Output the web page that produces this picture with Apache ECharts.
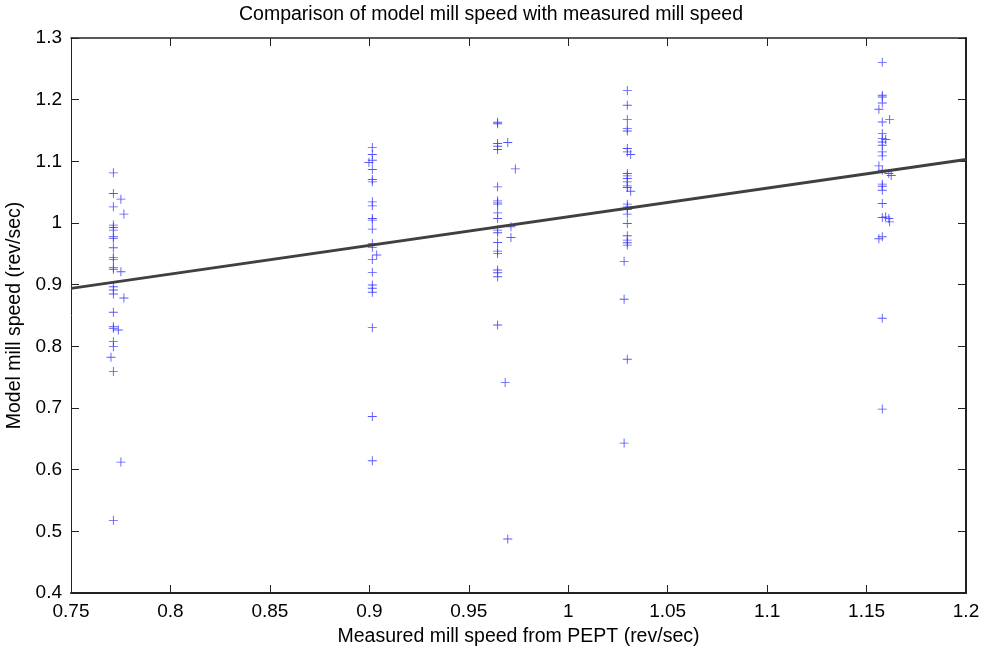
<!DOCTYPE html>
<html>
<head>
<meta charset="utf-8">
<script src="https://cdn.jsdelivr.net/npm/echarts@6/dist/echarts.min.js"></script>
<style>
  html, body { margin: 0; padding: 0; background: #fff; }
  #chart { width: 982px; height: 653px; }
</style>
</head>
<body>
<div id="chart"></div>
<script>
// Measured speed (x) and model speed (y), one pair per point
const measured = [
  0.7713, 0.7713, 0.7751, 0.7713, 0.7766, 0.7713, 0.7713, 0.7713, 0.7713, 0.7713,
  0.7713, 0.7713, 0.7713, 0.7713, 0.7713, 0.7751, 0.7713, 0.7713, 0.7713, 0.7766,
  0.7713, 0.7713, 0.7713, 0.7738, 0.7713, 0.7713, 0.7701, 0.7713, 0.7751, 0.7713,
  0.9015, 0.9015, 0.9015, 0.8998, 0.9015, 0.9015, 0.9015, 0.9015, 0.9015, 0.9015,
  0.9015, 0.9015, 0.9015, 0.9015, 0.9037, 0.9015, 0.9015, 0.9015, 0.9015, 0.9015,
  0.9015, 0.9015, 0.9015,
  0.9645, 0.9645, 0.9645, 0.9696, 0.9645, 0.9645, 0.9734, 0.9645, 0.9645, 0.9645,
  0.9645, 0.9645, 0.9645, 0.9712, 0.9645, 0.9645, 0.9712, 0.9645, 0.9645, 0.9645,
  0.9645, 0.9645, 0.9645, 0.9645, 0.9683, 0.9696,
  1.0297, 1.0297, 1.0297, 1.0297, 1.0297, 1.0297, 1.0297, 1.0314, 1.0297, 1.0297,
  1.0297, 1.0297, 1.0297, 1.0297, 1.0314, 1.0297, 1.0297, 1.0297, 1.0297, 1.0297,
  1.0297, 1.0297, 1.0297, 1.0297, 1.0281, 1.0281, 1.0297, 1.0281,
  1.1579, 1.1579, 1.1579, 1.1579, 1.1562, 1.1579, 1.1616, 1.1579, 1.1579, 1.1596,
  1.1579, 1.1579, 1.1579, 1.1579, 1.1562, 1.1579, 1.1624, 1.1612, 1.1579, 1.1579,
  1.1579, 1.1579, 1.1579, 1.1612, 1.1616, 1.1596, 1.1562, 1.1579, 1.1579, 1.1579
];
const model = [
  1.0813, 1.0479, 1.0387, 1.0262, 1.0144, 0.9966, 0.9928, 0.9885, 0.9776, 0.9750,
  0.9598, 0.9443, 0.9410, 0.9274, 0.9248, 0.9210, 0.8967, 0.8913, 0.8848, 0.8784,
  0.8552, 0.8319, 0.8293, 0.8266, 0.8076, 0.7995, 0.7823, 0.7590, 0.6123, 0.5178,
  1.1223, 1.1110, 1.1018, 1.0981, 1.0867, 1.0706, 1.0667, 1.0343, 1.0278, 1.0074,
  1.0047, 0.9901, 0.9669, 0.9604, 0.9480, 0.9410, 0.9200, 0.8994, 0.8941, 0.8876,
  0.8303, 0.6862, 0.6144,
  1.1633, 1.1610, 1.1289, 1.1305, 1.1245, 1.1191, 1.0877, 1.0586, 1.0359, 1.0327,
  1.0306, 1.0165, 1.0074, 0.9938, 0.9885, 0.9841, 0.9766, 0.9685, 0.9544, 0.9507,
  0.9237, 0.9193, 0.9129, 0.8347, 0.7412, 0.4876,
  1.2147, 1.1909, 1.1677, 1.1531, 1.1493, 1.1208, 1.1153, 1.1110, 1.0803, 1.0764,
  1.0722, 1.0667, 1.0602, 1.0576, 1.0516, 1.0306, 1.0262, 1.0220, 1.0144, 0.9993,
  0.9793, 0.9723, 0.9679, 0.9642, 0.9378, 0.8763, 0.7791, 0.6431,
  1.2605, 1.2071, 1.2043, 1.1946, 1.1844, 1.1638, 1.1677, 1.1450, 1.1369, 1.1353,
  1.1314, 1.1261, 1.1153, 1.1088, 1.0926, 1.0856, 1.0770, 1.0803, 1.0630, 1.0597,
  1.0532, 1.0317, 1.0090, 1.0074, 1.0019, 1.0100, 0.9744, 0.9776, 0.8455, 0.6982
];
// Least-squares fit line end points
const fitX = [0.75, 1.2];
const fitY = [0.894, 1.103];

const xTicks = { min: 0.75, max: 1.2, interval: 0.05 };
const yTicks = { min: 0.4, max: 1.3, interval: 0.1 };

const points = measured.map((x, i) => [x, model[i]]);
const fitLine = fitX.map((x, i) => [x, fitY[i]]);

const chart = echarts.init(document.getElementById('chart'));
const font = 'Liberation Sans, Arial, sans-serif';
const fmt = v => String(Math.round(v * 100) / 100);

function axis(width, extra) {
  return Object.assign({
    type: 'value',
    axisLine: { show: true, onZero: false, lineStyle: { color: '#222', width: width } },
    axisTick: { show: true, inside: true, length: 8, lineStyle: { color: '#222' } },
    splitLine: { show: false },
    axisLabel: { color: '#000', fontSize: 19, fontFamily: font, formatter: fmt, margin: 9 }
  }, extra);
}
const nameStyle = { color: '#000', fontSize: 19.5, fontFamily: font };

chart.setOption({
  animation: false,
  backgroundColor: '#fff',
  title: {
    text: 'Comparison of model mill speed with measured mill speed',
    left: 'center',
    top: 0,
    textStyle: { fontSize: 19.5, fontWeight: 'normal', color: '#000', fontFamily: font }
  },
  grid: { left: 71, right: 16, top: 38, bottom: 60, containLabel: false, outerBoundsMode: 'none' },
  xAxis: [
    axis(2, Object.assign({}, xTicks, {
      position: 'bottom',
      name: 'Measured mill speed from PEPT (rev/sec)',
      nameLocation: 'middle',
      nameGap: 34,
      nameTextStyle: nameStyle
    })),
    axis(1.5, Object.assign({}, xTicks, { position: 'top', axisLabel: { show: false } }))
  ],
  yAxis: [
    axis(1, Object.assign({}, yTicks, {
      position: 'left',
      name: 'Model mill speed (rev/sec)',
      nameLocation: 'middle',
      nameGap: 38,
      nameTextStyle: nameStyle
    })),
    axis(2, Object.assign({}, yTicks, { position: 'right', axisLabel: { show: false } }))
  ],
  series: [
    {
      type: 'scatter',
      data: points,
      symbol: 'path://M0,4.5h10v1h-10z M4.5,0h1v10h-1z',
      symbolSize: 9,
      itemStyle: { color: '#3a3aff', opacity: 0.85 },
      z: 2
    },
    {
      type: 'line',
      data: fitLine,
      showSymbol: false,
      lineStyle: { color: '#404040', width: 3 },
      z: 3
    }
  ]
});
</script>
</body>
</html>
